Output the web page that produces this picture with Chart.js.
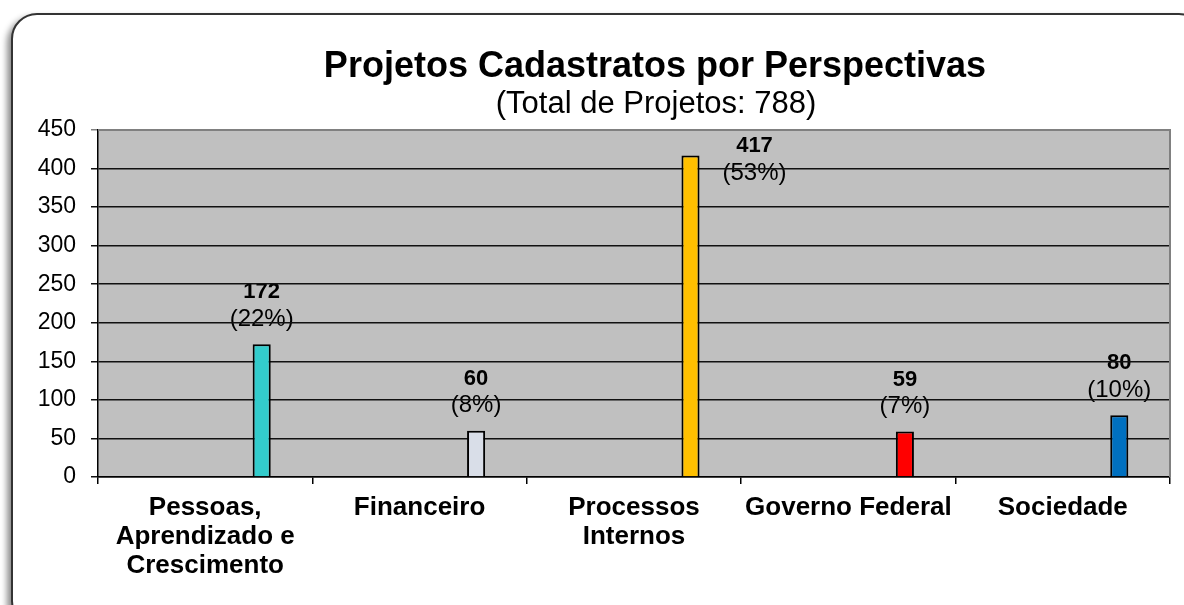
<!DOCTYPE html>
<html>
<head>
<meta charset="utf-8">
<script src="https://cdn.jsdelivr.net/npm/chart.js@4/dist/chart.umd.min.js"></script>
<style>
    body { margin: 0; background: #fff; overflow: hidden; }
    #frame {
        position: absolute; left: 11px; top: 13px; width: 1190px; height: 610px;
        border: 2px solid #333; border-radius: 26px;
        box-shadow: -4px 4px 6px rgba(0, 0, 0, 0.45);
        background: #fff;
    }
    #chart { position: absolute; left: 0; top: 0; }
</style>
</head>
<body>
<div id="frame"></div>
<canvas id="chart" width="1184" height="605"></canvas>
<script>
const categories = [
    ['Pessoas,', 'Aprendizado e', 'Crescimento'],
    'Financeiro',
    ['Processos', 'Internos'],
    'Governo Federal',
    'Sociedade'
];
const projectCounts = [172, 60, 417, 59, 80];
const barColors = ['#33CCCC', '#D9DEE8', '#FFC000', '#FF0000', '#0070C0'];
const totalProjects = 788;
const yTicks = [0, 50, 100, 150, 200, 250, 300, 350, 400, 450];

const titleText = 'Projetos Cadastratos por Perspectivas';
const subtitleText = '(Total de Projetos: ' + totalProjects + ')';

// Achtergrond van het plotgebied + labels boven de staven (onder de rasterlijnen)
const plotBackground = {
    id: 'plotBackground',
    beforeDraw(chart) {
        const { ctx, chartArea: a } = chart;
        ctx.save();
        ctx.fillStyle = '#C0C0C0';
        ctx.fillRect(a.left, a.top, a.right - a.left, a.bottom - a.top);

        const meta = chart.getDatasetMeta(1);
        ctx.fillStyle = '#000';
        ctx.textAlign = 'center';
        ctx.textBaseline = 'middle';
        meta.data.forEach((bar, i) => {
            const value = projectCounts[i];
            const pct = Math.round(value / totalProjects * 100);
            let x = bar.x, y1 = bar.y - 52, y2 = bar.y - 25;
            if (y1 - 12 < a.top) {
                x = bar.x + 64; y1 = bar.y - 10; y2 = bar.y + 18;
            }
            ctx.font = 'bold 22px "Liberation Sans", Arial, sans-serif';
            ctx.fillText(String(value), x, y1);
            ctx.font = '24px "Liberation Sans", Arial, sans-serif';
            ctx.fillText('(' + pct + '%)', x, y2);
        });
        ctx.restore();
    },
    afterDraw(chart) {
        const { ctx, chartArea: a } = chart;
        ctx.save();
        // rand boven en rechts
        ctx.strokeStyle = '#808080';
        ctx.lineWidth = 2;
        ctx.beginPath();
        ctx.moveTo(a.left, a.top);
        ctx.lineTo(a.right, a.top);
        ctx.lineTo(a.right, a.bottom);
        ctx.stroke();

        ctx.fillStyle = '#000';
        ctx.textAlign = 'center';
        ctx.textBaseline = 'alphabetic';
        ctx.font = 'bold 36px "Liberation Sans", Arial, sans-serif';
        ctx.fillText(titleText, 655, 77);
        ctx.font = '31px "Liberation Sans", Arial, sans-serif';
        ctx.fillText(subtitleText, 656, 113);
        ctx.restore();
    }
};

const ctx = document.getElementById('chart').getContext('2d');
new Chart(ctx, {
    type: 'bar',
    data: {
        labels: categories,
        datasets: [
            { label: 'spacer', data: [] },
            {
                label: 'Projetos',
                data: projectCounts,
                backgroundColor: barColors,
                borderColor: '#000',
                borderWidth: 2
            }
        ]
    },
    options: {
        responsive: false,
        animation: false,
        events: [],
        categoryPercentage: 1.054,
        barPercentage: 0.16,
        layout: { padding: { left: 0, top: 130, right: 14, bottom: 0 } },
        plugins: {
            legend: { display: false },
            tooltip: { enabled: false }
        },
        scales: {
            x: {
                afterFit(scale) { scale.height = 128; },
                border: { color: '#000', width: 1.5 },
                grid: {
                    offset: true,
                    drawOnChartArea: false,
                    tickLength: 7,
                    color: '#000',
                    lineWidth: 1.5
                },
                ticks: {
                    color: '#000',
                    padding: 9,
                    maxRotation: 0,
                    autoSkip: false,
                    font: { family: '"Liberation Sans", Arial, sans-serif', size: 26, weight: 'bold', lineHeight: 1.12 }
                }
            },
            y: {
                min: 0,
                max: 450,
                afterFit(scale) { scale.width = 98; },
                afterBuildTicks(scale) { scale.ticks = yTicks.map(v => ({ value: v })); },
                border: { color: '#000', width: 1.5 },
                grid: {
                    tickLength: 7,
                    color: ctx => ctx.tick && ctx.tick.value === 450 ? '#808080' : '#111',
                    lineWidth: 1.5
                },
                ticks: {
                    color: '#000',
                    padding: 15,
                    font: { family: '"Liberation Sans", Arial, sans-serif', size: 23 }
                }
            }
        }
    },
    plugins: [plotBackground]
});
</script>
</body>
</html>
